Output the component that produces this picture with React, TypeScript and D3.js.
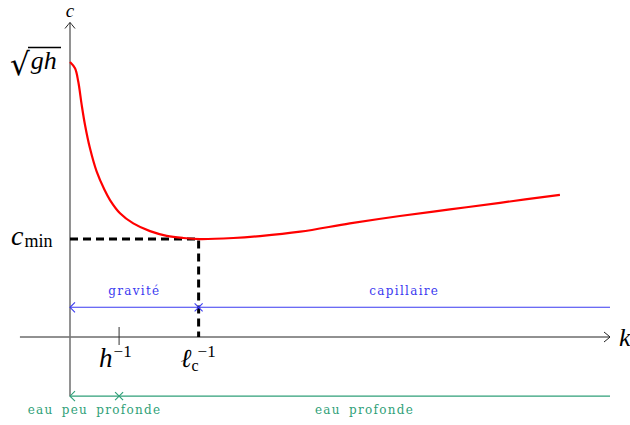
import React from 'react'
import { scaleLinear, line, curveCatmullRom } from 'd3'

// courbe c(k) (unités arbitraires : h^-1 = 1, sqrt(gh) = 1)
const kValues = [0, 0.102, 0.169, 0.238, 0.306, 0.407, 0.544, 0.7, 0.815, 1.019, 1.289, 1.63, 1.97, 2.308, 2.648, 3.327, 3.87, 4.69, 5.7, 6.72, 7.74, 8.76, 9.98]
const cValues = [1.0, 0.977, 0.928, 0.844, 0.771, 0.686, 0.601, 0.536, 0.498, 0.45, 0.413, 0.385, 0.368, 0.36, 0.356, 0.36, 0.367, 0.383, 0.413, 0.44, 0.464, 0.488, 0.517]

const hInv = 1
const lcInv = 2.62
const cMin = 0.356
const cMax = 1.0
const kDomain = [-1.02, 11]
const cDomain = [-0.21, 1.14]
const regimeGravity = ['gravité', 'capillaire']
const regimeDepth = ['eau peu profonde', 'eau profonde']

const W = 630
const H = 425
const serif = '"Liberation Serif", "DejaVu Serif", serif'
const smallSerif = '"DejaVu Serif", serif'

const App = () => {
  const x = scaleLinear().domain([0, 11]).range([70, 610])
  const y = scaleLinear().domain([0, 1]).range([337, 62])

  const pts: [number, number][] = kValues.map((k, i) => [k, cValues[i]])
  const path = line<[number, number]>()
    .x(d => x(d[0]))
    .y(d => y(d[1]))
    .curve(curveCatmullRom.alpha(0.5))(pts)

  const x0 = x(0)
  const xEnd = x(kDomain[1])
  const yTop = y(cDomain[1])
  const yBlue = y(0.108)
  const yGreen = y(cDomain[0] - 0.005)
  const blue = '#3a3af0'
  const green = '#2f9f78'

  const cross = (cx: number, cy: number, col: string) => (
    <g stroke={col} strokeWidth={1.1}>
      <line x1={cx - 4} y1={cy - 4} x2={cx + 4} y2={cy + 4} />
      <line x1={cx - 4} y1={cy + 4} x2={cx + 4} y2={cy - 4} />
    </g>
  )
  const leftHead = (cx: number, cy: number, col: string) => (
    <path d={`M${cx + 5},${cy - 5} Q${cx + 1},${cy - 1} ${cx},${cy} Q${cx + 1},${cy + 1} ${cx + 5},${cy + 5}`}
      fill="none" stroke={col} strokeWidth={1.1} />
  )
  const small = { fontFamily: smallSerif, fontSize: 12, letterSpacing: 1.3, wordSpacing: 3 }

  return (
    <svg width={W} height={H} style={{ position: 'absolute', left: 0, top: 0, background: '#fff' }}>
      {/* axe k */}
      <line x1={x(kDomain[0])} y1={y(0)} x2={xEnd} y2={y(0)} stroke="#222" strokeWidth={1} />
      <path d={`M${xEnd - 6},${y(0) - 5} Q${xEnd - 1},${y(0) - 1} ${xEnd},${y(0)} Q${xEnd - 1},${y(0) + 1} ${xEnd - 6},${y(0) + 5}`}
        fill="none" stroke="#222" strokeWidth={1} />
      <text x={xEnd + 9} y={y(0) + 9} fontFamily={serif} fontStyle="italic" fontSize={26}>k</text>

      {/* axe c */}
      <line x1={x0} y1={yGreen} x2={x0} y2={yTop - 1} stroke="#777" strokeWidth={1.6} />
      <path d={`M${x0 - 5},${yTop + 5} Q${x0 - 1},${yTop} ${x0},${yTop - 1} Q${x0 + 1},${yTop} ${x0 + 5},${yTop + 5}`}
        fill="none" stroke="#222" strokeWidth={1} />
      <text x={x0} y={17} textAnchor="middle" fontFamily={serif} fontStyle="italic" fontSize={19}>c</text>

      {/* pointillés c_min */}
      <path d={`M${x0},${y(cMin)} H${x(lcInv)} V${y(0)}`} fill="none" stroke="#000" strokeWidth={3} strokeDasharray="8,5" />

      {/* tick h^-1 */}
      <line x1={x(hInv)} y1={y(0) - 10} x2={x(hInv)} y2={y(0) + 8} stroke="#333" strokeWidth={1} />

      {/* courbe */}
      <path d={path ?? ''} fill="none" stroke="#f00" strokeWidth={2.2} />

      {/* étiquettes axe c */}
      <line x1={28} y1={y(cMax) - 14.5} x2={61} y2={y(cMax) - 14.5} stroke="#000" strokeWidth={1.3} />
      <text x={10} y={y(cMax) + 13} fontFamily={serif} fontSize={26}>
        <tspan fontFamily={smallSerif} fontSize={31}>√</tspan>
        <tspan fontStyle="italic" dy={-6} dx={1}>gh</tspan>
      </text>
      <text x={11} y={y(cMin) + 6} fontFamily={serif} fontStyle="italic" fontSize={28}>
        c<tspan fontStyle="normal" fontSize={18} dx={1} dy={2}>min</tspan>
      </text>

      {/* étiquettes axe k */}
      <text x={x(hInv) - 20} y={y(0) + 30} fontFamily={serif} fontStyle="italic" fontSize={27}>
        h<tspan fontStyle="normal" fontSize={17} dx={1} dy={-10}>−1</tspan>
      </text>
      <text x={x(lcInv) - 18} y={y(0) + 30} fontFamily={serif} fontStyle="italic" fontSize={26}>
        ℓ<tspan fontStyle="normal" fontSize={16} dx={0} dy={4}>c</tspan>
        <tspan fontStyle="normal" fontSize={17} dx={-1} dy={-14}>−1</tspan>
      </text>

      {/* régimes gravité / capillaire */}
      <line x1={x0} y1={yBlue} x2={xEnd} y2={yBlue} stroke={blue} strokeWidth={1.1} />
      {leftHead(x0, yBlue, blue)}
      {cross(x(lcInv), yBlue, blue)}
      <text x={(x0 + x(lcInv)) / 2} y={yBlue - 12} textAnchor="middle" fill={blue} {...small}>{regimeGravity[0]}</text>
      <text x={(x(lcInv) + xEnd) / 2} y={yBlue - 12} textAnchor="middle" fill={blue} {...small}>{regimeGravity[1]}</text>

      {/* régimes profondeur */}
      <line x1={x0} y1={yGreen} x2={xEnd} y2={yGreen} stroke={green} strokeWidth={1.1} />
      {leftHead(x0, yGreen, green)}
      {cross(x(hInv), yGreen, green)}
      <text x={(x0 + x(hInv)) / 2} y={yGreen + 18} textAnchor="middle" fill={green} {...small}>{regimeDepth[0]}</text>
      <text x={(x(hInv) + xEnd) / 2} y={yGreen + 18} textAnchor="middle" fill={green} {...small}>{regimeDepth[1]}</text>
    </svg>
  )
}

export default App
